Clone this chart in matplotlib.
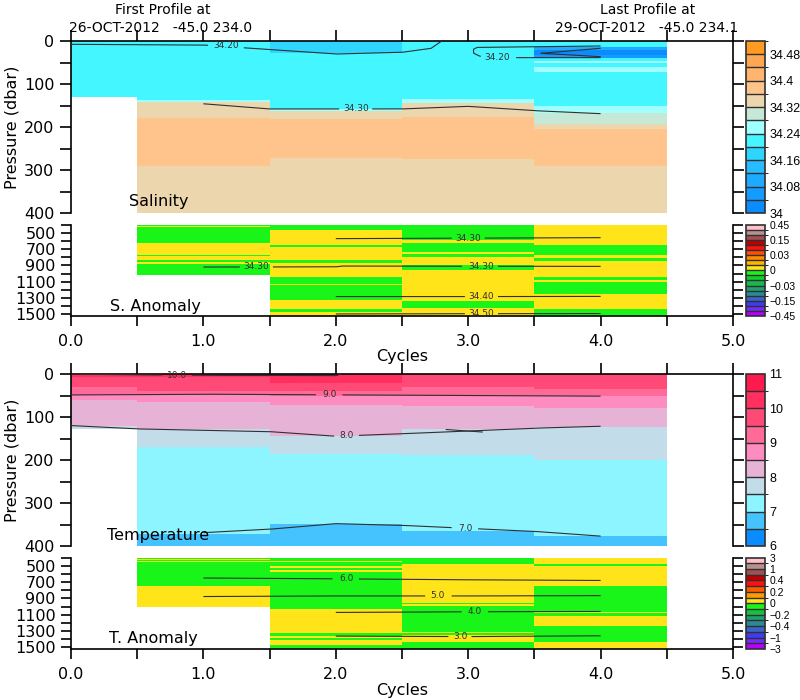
import numpy as np
import matplotlib
matplotlib.use("Agg")
import matplotlib.pyplot as plt
from matplotlib.colors import ListedColormap, BoundaryNorm
from matplotlib.cm import ScalarMappable

# ======================= DATA =======================
cycle_edges = [-0.5, 0.5, 1.5, 2.5, 3.5, 4.5]

# ---- Salinity (layer boundaries in dbar, value of each layer) ----
sal_depths = [
    [0, 131],
    [0, 137, 143, 180, 290, 400],
    [0, 29, 157, 162, 182, 271, 400],
    [0, 134, 145, 177, 275, 400],
    [0, 13, 20, 32, 40, 47, 52, 60, 71, 151, 167, 192, 205, 290, 400],
]
sal_values = [
    [34.22],
    [34.22, 34.26, 34.34, 34.38, 34.34],
    [34.18, 34.22, 34.26, 34.34, 34.38, 34.34],
    [34.22, 34.26, 34.34, 34.38, 34.34],
    [34.22, 34.10, 34.02, 34.06, 34.22, 34.26, 34.22, 34.26, 34.22, 34.26,
     34.30, 34.34, 34.38, 34.34],
]

# ---- Salinity anomaly ----
G, Y = -0.005, 0.005
sanom_depths = [
    [],
    [400, 415, 425, 630, 774, 790, 830, 856, 880, 1012],
    [400, 470, 600, 650, 680, 836, 877, 1041, 1130, 1145, 1328, 1431, 1470, 1520],
    [400, 590, 630, 733, 760, 800, 897, 959, 1340, 1420, 1520],
    [400, 651, 774, 815, 850, 1041, 1082, 1100, 1246, 1431, 1520],
]
sanom_values = [
    [],
    [G, Y, G, Y, G, Y, G, Y, G],
    [G, Y, Y, G, Y, G, Y, G, Y, G, Y, G, Y],
    [G, Y, G, Y, G, Y, G, Y, G, Y],
    [Y, G, Y, G, Y, G, Y, G, Y, G],
]

# ---- Temperature ----
temp_depths = [
    [0, 8, 30, 49, 60, 120, 129],
    [0, 8, 39, 49, 64, 128, 170, 372, 400],
    [0, 20, 39, 50, 73, 145, 186, 348, 400],
    [0, 10, 31, 50, 75, 129, 188, 364, 400],
    [0, 10, 35, 50, 80, 124, 199, 377, 400],
]
temp_values = [
    [10.25, 9.75, 9.25, 8.75, 8.25, 7.75],
    [10.25, 9.75, 9.25, 8.75, 8.25, 7.75, 7.25, 6.75],
    [10.25, 9.75, 9.25, 8.75, 8.25, 7.75, 7.25, 6.75],
    [9.75, 9.75, 9.25, 8.75, 8.25, 7.75, 7.25, 6.75],
    [9.75, 9.75, 9.25, 8.75, 8.25, 7.75, 7.25, 6.75],
]

# ---- Temperature anomaly ----
GT, YT = -0.05, 0.05
tanom_depths = [
    [],
    [400, 412, 425, 440, 452, 754, 1010],
    [400, 438, 454, 507, 528, 556, 581, 1032, 1327, 1360, 1389, 1410, 1471, 1520],
    [400, 476, 960, 975, 990, 1308, 1330, 1345, 1431, 1520],
    [400, 476, 505, 754, 1062, 1075, 1111, 1234, 1431, 1520],
]
tanom_values = [
    [],
    [GT, YT, GT, YT, GT, YT],
    [GT, YT, GT, YT, GT, YT, GT, YT, GT, YT, GT, YT, GT],
    [GT, YT, GT, YT, GT, YT, GT, YT, GT],
    [YT, GT, YT, GT, YT, GT, YT, GT, YT],
]

# ---- contour lines (cycle, depth) ----
sal_contours = [
    ([0, 1.0, 1.47, 2.01, 2.5, 2.72, 2.78, 2.8], [7.7, 9.3, 19.3, 30.2, 26.3, 17, 4, 0]),
    ([4.0, 3.07, 3.04, 3.04, 3.07, 3.12, 4.0], [11.6, 14.7, 19, 28, 33, 38.7, 38.7]),
    ([4.0, 3.55, 4.0], [17, 28.6, 36.4]),
    ([1.0, 1.5, 2.5, 3.0, 3.5, 4.0], [146, 158, 158, 152, 162, 169]),
]
sal_labels = [(1.17, 9.8, "34.20"), (3.22, 38.7, "34.20"), (2.15, 158, "34.30")]

sanom_contours = [
    ([2.0, 3.0, 4.0], [572, 566, 560]),
    ([1.0, 2.0, 2.05, 3.0, 4.0], [920, 918, 908, 910, 912]),
    ([2.0, 3.0, 4.0], [1282, 1282, 1280]),
    ([2.0, 3.0, 4.0], [1495, 1492, 1490]),
]
sanom_labels = [(3.0, 566, "34.30"), (1.4, 919, "34.30"), (3.1, 910, "34.30"),
                (3.1, 1282, "34.40"), (3.1, 1492, "34.50")]

temp_contours = [
    ([0, 0.5, 1.0, 1.5, 2.0, 2.04], [0.5, 2, 3, 3.5, 4, 0]),
    ([0, 1, 2, 3, 4], [48.7, 47, 48.5, 50, 51.5]),
    ([0, 0.5, 1.5, 2.0, 2.5, 3.5, 4.0], [120, 127.7, 134, 144.7, 139, 126, 121.5]),
    ([2.83, 3.11], [129, 135]),
    ([1.0, 1.5, 2.0, 2.5, 3.5, 4.0], [369, 361, 348, 352, 366, 377]),
]
temp_labels = [(0.8, 2.8, "10.0"), (1.95, 48.3, "9.0"), (2.08, 143, "8.0"), (2.98, 359, "7.0")]

tanom_contours = [
    ([1, 2, 3, 4], [650, 660, 672, 680]),
    ([1, 2, 3, 4], [877, 870, 870, 866]),
    ([2, 3, 4], [1072, 1064, 1060]),
    ([2, 3, 4], [1362, 1368, 1358]),
]
tanom_labels = [(2.08, 661, "6.0"), (2.77, 870, "5.0"), (3.05, 1064, "4.0"), (2.94, 1366, "3.0")]

# ---- colour levels ----
sal_levels = [34.00, 34.04, 34.08, 34.12, 34.16, 34.20, 34.24, 34.28, 34.32,
              34.36, 34.40, 34.44, 34.48, 34.52]
sal_colors = ['#0a8cff', '#149bff', '#1eaaff', '#26bcff', '#2ed6ff', '#44f6ff',
              '#a0ffff', '#c6e8d6', '#ecd6ae', '#ffc48c', '#ffb470', '#ffa650', '#ff9a22']
sal_ticks = [34.00, 34.08, 34.16, 34.24, 34.32, 34.40, 34.48]
sal_ticklabels = ["34", "34.08", "34.16", "34.24", "34.32", "34.4", "34.48"]

sanom_levels = [-0.45, -0.35, -0.25, -0.15, -0.11, -0.07, -0.03, -0.02, -0.01, 0,
                0.01, 0.02, 0.03, 0.07, 0.11, 0.15, 0.25, 0.35, 0.45]
anom18_colors = ['#b400ff', '#7828ff', '#3c3cf0', '#3c64c8', '#2a8a96', '#20a070',
                 '#18b84c', '#10d030', '#19f519', '#ffe419', '#ffb400', '#ff8c00',
                 '#ff5000', '#ff1010', '#c00000', '#a05050', '#b89090', '#ffc0c8']
sanom_ticks = [-0.45, -0.15, -0.03, 0, 0.03, 0.15, 0.45]
sanom_ticklabels = ["\u22120.45", "\u22120.15", "\u22120.03", "0", "0.03", "0.15", "0.45"]

temp_levels = [6.0, 6.5, 7.0, 7.5, 8.0, 8.5, 9.0, 9.5, 10.0, 10.5, 11.0]
temp_colors = ['#0a8cff', '#45c3ff', '#8cf5ff', '#c3dcea', '#e6b3d6', '#ff8cc0',
               '#ff6a98', '#ff4a78', '#ff3060', '#ff1a4e']
temp_ticks = [6, 7, 8, 9, 10, 11]
temp_ticklabels = ["6", "7", "8", "9", "10", "11"]

tanom_levels = [-3, -2, -1, -0.7, -0.4, -0.3, -0.2, -0.1, 0,
                0.1, 0.2, 0.3, 0.4, 0.7, 1, 2, 3]
anom16_colors = ['#b400ff', '#7828ff', '#3c3cf0', '#3c64c8', '#2a8a96', '#20a070',
                 '#18c040', '#19f519', '#ffe419', '#ff9a00', '#ff5a00', '#ff1010',
                 '#c00000', '#a05050', '#b89090', '#ffc0c8']
tanom_ticks = [-3, -1, -0.4, -0.2, 0, 0.2, 0.4, 1, 3]
tanom_ticklabels = ["\u22123", "\u22121", "\u22120.4", "\u22120.2", "0", "0.2", "0.4", "1", "3"]

header_left = ["First Profile at", "26-OCT-2012   -45.0 234.0"]
header_right = ["Last Profile at", "29-OCT-2012   -45.0 234.1"]

# ======================= PLOT =======================
W, H = 800, 700
plt.rcParams['font.family'] = ['DejaVu Sans']
fig = plt.figure(figsize=(W / 100, H / 100), dpi=100)
CC = '#303030'


def fa(x0, y0, x1, y1):
    return [x0 / W, 1 - y1 / H, (x1 - x0) / W, (y1 - y0) / H]


def fill_field(grid, col_depths, col_values):
    grid = np.asarray(grid, float)
    centers = 0.5 * (grid[:-1] + grid[1:])
    Z = np.full((len(centers), len(col_depths)), np.nan)
    for j, (ds, vs) in enumerate(zip(col_depths, col_values)):
        if len(vs) == 0:
            continue
        ds = np.asarray(ds, float)
        idx = np.searchsorted(ds, centers, side='right') - 1
        ok = (centers >= ds[0]) & (centers < ds[-1])
        Z[ok, j] = np.asarray(vs)[idx[ok]]
    return Z


def draw_contours(ax, lines, labels, fs=6.5):
    boxes = []
    for xl, dl, txt in labels:
        px, py = ax.transData.transform((xl, dl))
        boxes.append((px, py, len(txt) * 2.7 + 3, 5))
        ax.text(xl, dl, txt, fontsize=fs, color=CC, ha='center', va='center', zorder=5)
    for xs, ds in lines:
        X, D = [], []
        for i in range(len(xs) - 1):
            t = np.linspace(0, 1, 40, endpoint=False)
            X.extend(xs[i] + (xs[i + 1] - xs[i]) * t)
            D.extend(ds[i] + (ds[i + 1] - ds[i]) * t)
        X.append(xs[-1]); D.append(ds[-1])
        X = np.array(X, float); D = np.array(D, float)
        P = ax.transData.transform(np.column_stack([X, D]))
        mask = np.zeros(len(X), bool)
        for px, py, hw, hh in boxes:
            mask |= (np.abs(P[:, 0] - px) < hw) & (np.abs(P[:, 1] - py) < hh)
        X[mask] = np.nan
        ax.plot(X, D, color=CC, lw=0.8, zorder=4, solid_capstyle='butt')


def style_axes(ax, main):
    for s in ax.spines.values():
        s.set_linewidth(1.2)
    ax.set_xlim(0, 5)
    ax.set_xticks(np.arange(0, 5.01, 0.5))
    if main:
        ax.set_ylim(400, 0)
        ax.spines['bottom'].set_visible(False)
        ax.set_yticks(np.arange(0, 401, 50))
        ax.set_yticklabels([str(v) if v % 100 == 0 else "" for v in range(0, 401, 50)])
        ax.tick_params(axis='x', which='both', top=True, bottom=False,
                       labeltop=False, labelbottom=False, direction='out', length=8, width=1.2)
        ax.tick_params(axis='y', left=True, right=True, direction='out', length=8,
                       width=1.2, labelsize=11.5, pad=4)
    else:
        ax.set_ylim(1520, 400)
        ax.spines['top'].set_visible(False)
        ax.set_yticks(np.arange(400, 1501, 100))
        ax.set_yticklabels([str(v) if v in (500, 700, 900, 1100, 1300, 1500) else ""
                            for v in range(400, 1501, 100)])
        ax.set_xticklabels(["%.1f" % v if abs(v - round(v)) < 1e-6 else ""
                            for v in np.arange(0, 5.01, 0.5)])
        ax.tick_params(axis='x', bottom=True, top=False, direction='out', length=7,
                       width=1.2, labelsize=11.5, pad=6)
        ax.tick_params(axis='y', left=True, right=True, direction='out', length=7,
                       width=1.2, labelsize=11.5, pad=4)


def colorbar(y0, y1, levels, colors, ticks, ticklabels, fs):
    cax = fig.add_axes(fa(745.5, y0, 765, y1))
    cmap = ListedColormap(colors)
    norm = BoundaryNorm(levels, cmap.N)
    cb = fig.colorbar(ScalarMappable(norm=norm, cmap=cmap), cax=cax,
                      spacing='uniform', drawedges=True, ticks=ticks)
    cb.ax.set_yticklabels(ticklabels, family='Liberation Sans')
    cb.ax.tick_params(length=0, labelsize=fs, pad=3)
    cb.dividers.set_color(CC)
    cb.dividers.set_linewidth(1.0)
    cb.outline.set_edgecolor(CC)
    cb.outline.set_linewidth(1.2)
    return cmap, norm


def panel_pair(off, main_d, main_v, main_lev, main_col, main_ticks, main_tl,
               an_d, an_v, an_lev, an_col, an_ticks, an_tl,
               main_lines, main_lab, an_lines, an_lab, main_name, main_name_pos,
               an_name, an_name_pos):
    ax1 = fig.add_axes(fa(71, 41 + off, 733, 213 + off))
    ax2 = fig.add_axes(fa(71, 224.6 + off, 733, 316 + off))
    style_axes(ax1, True)
    style_axes(ax2, False)
    cm1, n1 = colorbar(41 + off, 213 + off, main_lev, main_col, main_ticks, main_tl, 9)
    cm2, n2 = colorbar(224.6 + off, 316 + off, an_lev, an_col, an_ticks, an_tl, 7.5)
    g1 = np.arange(0, 401, 1)
    ax1.pcolormesh(cycle_edges, g1, fill_field(g1, main_d, main_v), cmap=cm1, norm=n1,
                   shading='flat', antialiased=False, zorder=1)
    g2 = np.arange(400, 1521, 2)
    ax2.pcolormesh(cycle_edges, g2, fill_field(g2, an_d, an_v), cmap=cm2, norm=n2,
                   shading='flat', antialiased=False, zorder=1)
    ax1.set_xlim(0, 5); ax1.set_ylim(400, 0)
    ax2.set_xlim(0, 5); ax2.set_ylim(1520, 400)
    draw_contours(ax1, main_lines, main_lab)
    draw_contours(ax2, an_lines, an_lab)
    ax1.text(main_name_pos[0], main_name_pos[1], main_name, fontsize=11.5,
             ha='left', va='center', zorder=6)
    ax2.text(an_name_pos[0], an_name_pos[1], an_name, fontsize=11.5,
             ha='left', va='center', zorder=6)
    fig.text(12 / W, 1 - (127 + off) / H, "Pressure (dbar)", rotation=90,
             ha='center', va='center', fontsize=11.5)
    fig.text(402 / W, 1 - (357 + off) / H, "Cycles", ha='center', va='center',
             fontsize=11.5)


panel_pair(0, sal_depths, sal_values, sal_levels, sal_colors, sal_ticks, sal_ticklabels,
           sanom_depths, sanom_values, sanom_levels, anom18_colors, sanom_ticks,
           sanom_ticklabels, sal_contours, sal_labels, sanom_contours, sanom_labels,
           "Salinity", (0.44, 374), "S. Anomaly", (0.295, 1401))
panel_pair(333, temp_depths, temp_values, temp_levels, temp_colors, temp_ticks,
           temp_ticklabels, tanom_depths, tanom_values, tanom_levels, anom16_colors,
           tanom_ticks, tanom_ticklabels, temp_contours, temp_labels, tanom_contours,
           tanom_labels, "Temperature", (0.27, 375), "T. Anomaly", (0.29, 1389))

fig.text(163 / W, 1 - 10 / H, header_left[0], ha='center', va='center', fontsize=10)
fig.text(69 / W, 1 - 28 / H, header_left[1], ha='left', va='center', fontsize=10)
fig.text(648 / W, 1 - 10 / H, header_right[0], ha='center', va='center', fontsize=10)
fig.text(555 / W, 1 - 28 / H, header_right[1], ha='left', va='center', fontsize=10)

fig.savefig("out.png", dpi=100, facecolor='white')
